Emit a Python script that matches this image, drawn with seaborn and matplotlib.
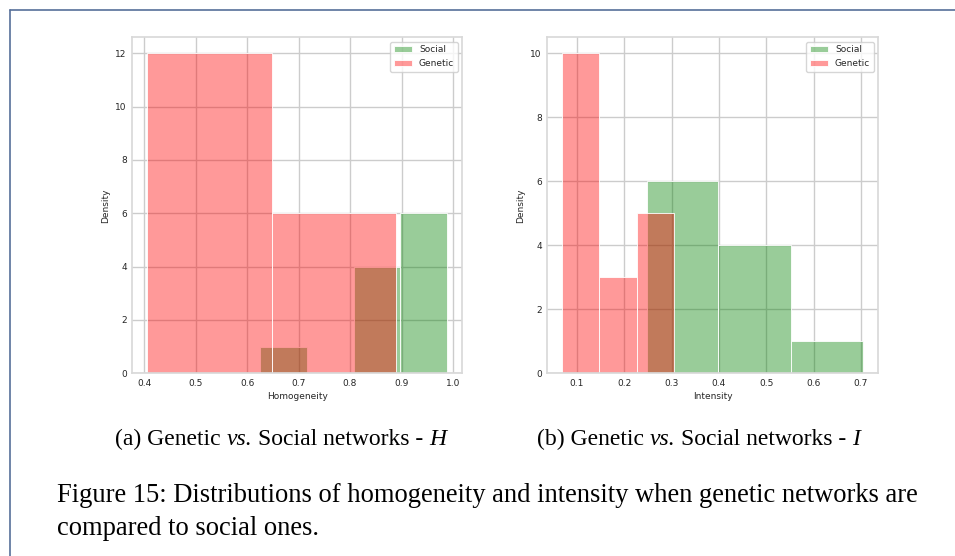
import matplotlib
matplotlib.use("Agg")
import matplotlib.pyplot as plt
from matplotlib.lines import Line2D
import seaborn as sns

# Homogeneity (H) histogram - bin edges and counts
h_social_edges = [0.625, 0.716, 0.807, 0.898, 0.989]
h_social_counts = [1, 0, 4, 6]
h_genetic_edges = [0.406, 0.648, 0.889]
h_genetic_counts = [12, 6]

# Intensity (I) histogram
i_social_edges = [0.247, 0.399, 0.552, 0.705]
i_social_counts = [6, 4, 1]
i_genetic_edges = [0.069, 0.147, 0.226, 0.304]
i_genetic_counts = [10, 3, 5]

series_names = ["Social", "Genetic"]
series_colors = ["#008000", "#ff0000"]
x_labels = ["Homogeneity", "Intensity"]
sub_captions = [
    [("(a) Genetic", "normal"), ("vs.", "italic"), ("Social networks -", "normal"), ("H", "italic")],
    [("(b) Genetic", "normal"), ("vs.", "italic"), ("Social networks -", "normal"), ("I", "italic")],
]
caption_lines = ["Figure 15: Distributions of homogeneity and intensity when genetic networks are",
                 "compared to social ones."]

sns.set_theme(style="whitegrid")

fig = plt.figure(figsize=(9.55, 5.56), dpi=100)
W, H = 955, 556
renderer = fig.canvas.get_renderer()


def ax_at(x0, y0, x1, y1):
    return fig.add_axes([x0 / W, 1 - y1 / H, (x1 - x0) / W, (y1 - y0) / H])


def draw_hist(ax, edges, counts, color, label):
    centers = [(a + b) / 2 for a, b in zip(edges[:-1], edges[1:])]
    sns.histplot(x=centers, weights=list(counts), bins=list(edges), color=color, alpha=0.4,
                 edgecolor="white", linewidth=0.6, label=label, ax=ax)


def text_width(s, size, style):
    t = fig.text(0, 0, s, family="Liberation Serif", fontsize=size, style=style)
    w = t.get_window_extent(renderer).width
    t.remove()
    return w


def put_runs(xc, y, runs, size):
    # mixed upright / italic runs separated by single spaces, centred on xc
    sp = text_width("a a", size, "normal") - text_width("aa", size, "normal")
    widths = [text_width(s, size, st) for s, st in runs]
    total = sum(widths) + sp * (len(runs) - 1)
    x = xc - total / 2
    for (s, st), w in zip(runs, widths):
        fig.text(x / W, 1 - y / H, s, family="Liberation Serif", fontsize=size, style=st,
                 color="black", ha="left", va="baseline")
        x += w + sp


panels = [
    (ax_at(132.3, 37.3, 462.3, 373.3), h_social_edges, h_social_counts,
     h_genetic_edges, h_genetic_counts),
    (ax_at(547.3, 37.3, 878.3, 373.3), i_social_edges, i_social_counts,
     i_genetic_edges, i_genetic_counts),
]

for k, (ax, se, sc, ge, gc) in enumerate(panels):
    draw_hist(ax, se, sc, series_colors[0], series_names[0])
    draw_hist(ax, ge, gc, series_colors[1], series_names[1])
    ax.set_xlabel(x_labels[k], fontsize=6.5, labelpad=3)
    ax.set_ylabel("Density", fontsize=6.5, labelpad=4)
    ax.tick_params(labelsize=6.5, length=0, pad=4)
    ax.legend(loc="upper right", fontsize=6.5)
    for sp in ax.spines.values():
        sp.set_color(".85")

# sub captions and figure caption, Times-like
put_runs(281, 445, sub_captions[0], 17)
put_runs(698.5, 445, sub_captions[1], 17)
fig.text(57 / W, 1 - 502 / H, caption_lines[0], family="Liberation Serif",
         fontsize=19.1, color="black", ha="left", va="baseline")
fig.text(57 / W, 1 - 535 / H, caption_lines[1], family="Liberation Serif",
         fontsize=19.1, color="black", ha="left", va="baseline")

# page frame
frame_col = "#56709a"
fig.add_artist(Line2D([9.5 / W, 9.5 / W], [0, 1 - 9.5 / H], transform=fig.transFigure,
                      color=frame_col, lw=1.2))
fig.add_artist(Line2D([9.5 / W, 1], [1 - 9.5 / H, 1 - 9.5 / H], transform=fig.transFigure,
                      color=frame_col, lw=1.2))

fig.savefig("out.png", dpi=100, facecolor="white")
